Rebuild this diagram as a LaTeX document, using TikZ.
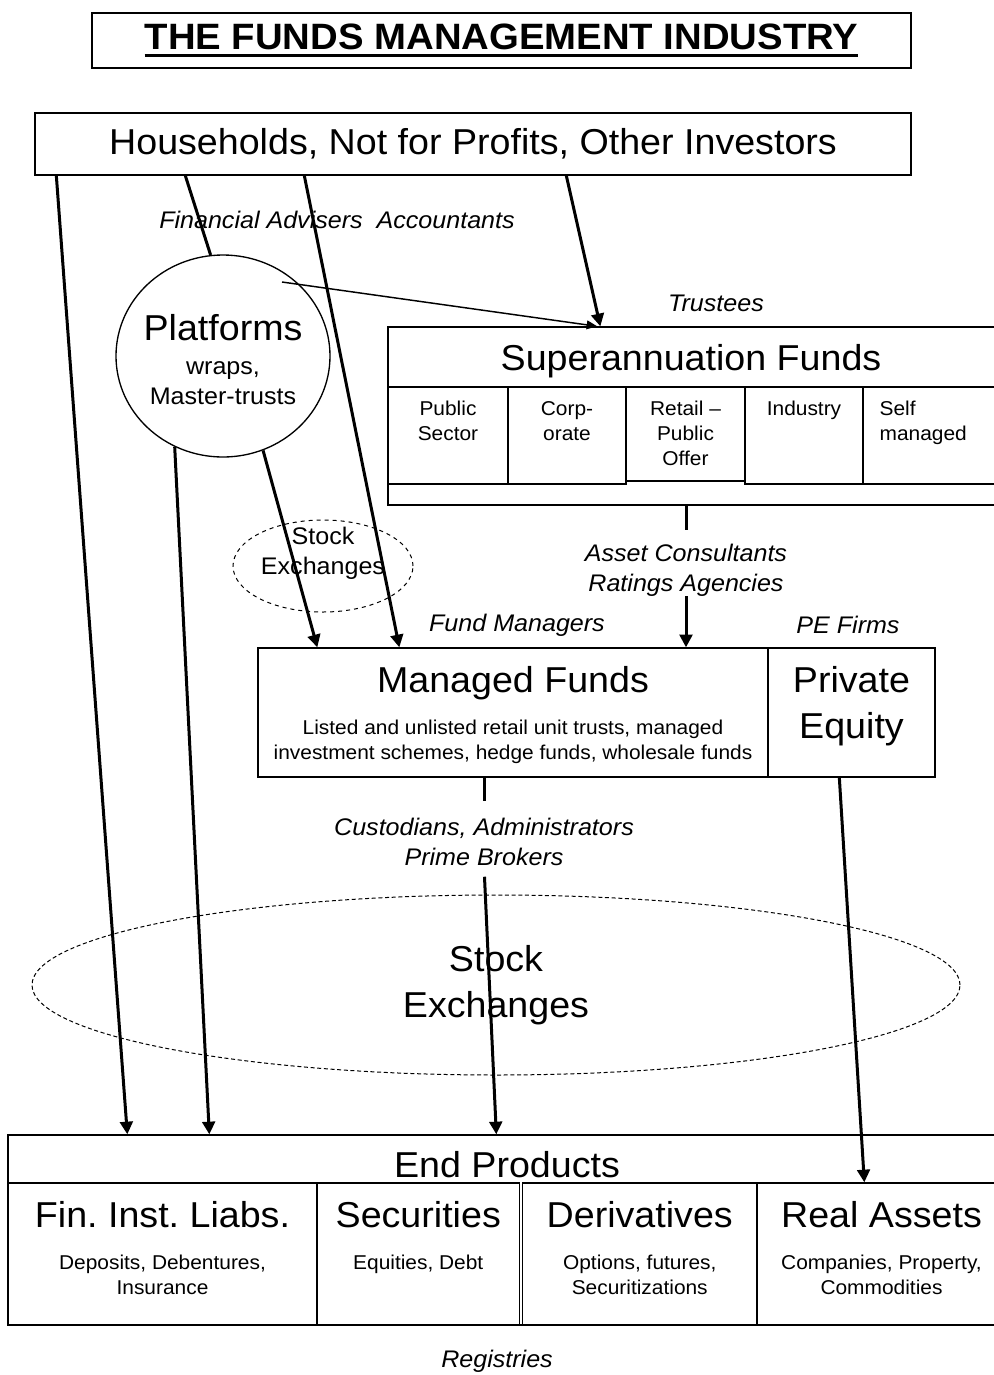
\documentclass[tikz,border=0pt]{standalone}
\usepackage{fontspec}
\setmainfont{Liberation Sans}[FakeStretch=1.045]
\usepackage{tikz}
\usetikzlibrary{positioning,arrows.meta,calc,shapes.geometric}

\newcommand\fbig{\fontsize{27}{34.5}\selectfont}
\newcommand\fmid{\fontsize{18}{22.5}\selectfont}
\newcommand\fsml{\fontsize{15}{18.75}\selectfont}
\newcommand\thickul[1]{\vtop{\hbox{#1}\kern3.5pt\hrule height 2.2pt}}
\frenchspacing

\begin{document}
\begin{tikzpicture}[
  x=0.75pt, y=-0.75pt, >={Triangle[length=9.5pt, width=9.5pt]},
  box/.style={draw, line width=1pt, inner sep=0pt},
  cell/.style={draw, line width=1pt, inner sep=0pt, minimum height=72.75pt},
  bigtxt/.style={font=\fbig, inner sep=0pt, align=center},
  midtxt/.style={font=\fmid, inner sep=0pt, align=center},
  smltxt/.style={font=\fsml, inner sep=0pt, align=center},
  role/.style={font=\fmid\itshape, inner sep=0pt, align=center},
  exch/.style={ellipse, draw, dashed, line width=0.75pt, inner sep=0pt},
  flow/.style={line width=2.25pt},
  link/.style={line width=1.1pt, -{Triangle[length=8pt, width=6.5pt]}}
]
  \useasboundingbox (0,0) rectangle (993,1375);

  % title and investors
  \node[box, line width=0.8pt, minimum width=614.25pt, minimum height=41.25pt, font=\fontsize{27.5}{34}\selectfont\bfseries] (title) at (501.5,40.5) {\thickul{THE FUNDS MANAGEMENT INDUSTRY}};
  \node[box, font=\fbig, minimum width=657pt, minimum height=46.5pt] (house) at (473,144) {Households, Not for Profits, Other Investors};
  \node[role] (advisers) at (337,220) {Financial Advisers~ Accountants};

  % platforms
  \node[ellipse, draw, line width=1pt, minimum width=160.5pt, minimum height=151.5pt, inner sep=0pt] (plat) at (223,356) {};
  \node[bigtxt] (platt) at (223,328) {Platforms};
  \node[midtxt] (plats) at (223,383) {wraps,\\Master-trusts};

  % superannuation
  \node[role] (trustees) at (716,303) {Trustees};
  \node[box, minimum width=456pt, minimum height=133.5pt] (super) at (692,416) {};
  \node[bigtxt] (supert) at (691,361) {Superannuation Funds};
  \node[cell, minimum width=90pt] (pub) at (448,435.5) {};
  \node[cell, minimum width=88.5pt] (corp) at (567,435.5) {};
  \node[cell, minimum width=89.25pt, minimum height=70.5pt] (retail) at (685.5,434) {};
  \node[cell, minimum width=88.5pt] (ind) at (804,435.5) {};
  \node[cell, minimum width=99.75pt] (self) at (929.5,435.5) {};
  \node[smltxt, below=10.5pt of pub.north] (pubt) {Public\\Sector};
  \node[smltxt, below=11pt of corp.north] (corpt) {Corp-\\orate};
  \node[smltxt, below=10.5pt of retail.north] (retailt) {Retail --\\Public\\Offer};
  \node[smltxt, below=10.5pt of ind.north] (indt) {Industry};
  \node[smltxt, align=left, below right=10.5pt and 12.75pt of self.north west] (selft) {Self\\managed};

  \node[exch, minimum width=135pt, minimum height=69pt] (sx1) at (323,566) {};
  \node[midtxt] (sx1t) at (323,553) {Stock\\Exchanges};
  \node[role] (asset) at (686,570) {Asset Consultants\\Ratings Agencies};

  % managed funds and private equity
  \node[role] (fundmgr) at (517,625) {Fund Managers};
  \node[role] (pefirms) at (848,625) {PE Firms};
  \node[box, minimum width=382.5pt, minimum height=96.75pt] (mf) at (513,712.5) {};
  \node[bigtxt, below=14pt of mf.north] (mft) {Managed Funds};
  \node[smltxt, below=15pt of mft] (mfs) {Listed and unlisted retail unit trusts, managed\\investment schemes, hedge funds, wholesale funds};
  \node[box, minimum width=125.25pt, minimum height=96.75pt] (pe) at (851.5,712.5) {};
  \node[bigtxt, below=14pt of pe.north] (pet) {Private\\Equity};
  \node[role] (cust) at (484,842) {Custodians, Administrators\\Prime Brokers};

  \node[exch, dash pattern=on 3pt off 2pt, minimum width=696pt, minimum height=135pt, font=\fbig, align=center] (sx2) at (496,985) {Stock\\Exchanges};

  % end products
  \node[box, minimum width=748.5pt, minimum height=142.5pt] (endp) at (507,1230) {};
  \node[bigtxt] (endpt) at (507,1165) {End Products};
  \node[cell, minimum width=231.75pt, minimum height=106.5pt] (fil) at (162.5,1254) {};
  \node[cell, minimum width=151.875pt, minimum height=106.5pt] (sec) at (418.25,1254) {};
  \node[cell, minimum width=175.875pt, minimum height=106.5pt] (der) at (639.75,1254) {};
  \node[cell, minimum width=186.75pt, minimum height=106.5pt] (real) at (881.5,1254) {};
  \node[bigtxt, below=14pt of fil.north] (filt) {Fin. Inst. Liabs.};
  \node[smltxt, below=20pt of filt] (fils) {Deposits, Debentures,\\Insurance};
  \node[bigtxt, below=14pt of sec.north] (sect) {Securities};
  \node[smltxt, below=20pt of sect] (secs) {Equities, Debt};
  \node[bigtxt, below=14pt of der.north] (dert) {Derivatives};
  \node[smltxt, below=20pt of dert] (ders) {Options, futures,\\Securitizations};
  \node[bigtxt, below=14pt of real.north] (realt) {Real Assets};
  \node[smltxt, below=20pt of realt] (reals) {Companies, Property,\\Commodities};
  \node[role] (registries) at (497,1361) {Registries};

  % flows
  \draw[flow,->] ($(house.south west)+(22,0)$) -- ($(endp.north west)+(120,0)$);
  \draw[flow] ($(house.south west)+(151,0)$) -- (plat.97);
  \draw[flow,->] ($(house.south west)+(270,0)$) -- ($(mf.north west)+(142,0)$);
  \draw[flow,->] ($(house.south west)+(532,0)$) -- ($(super.north west)+(213,0)$);
  \draw[link] ($(plat.center)+(59,-74)$) -- ($(super.north west)+(210,0)$);
  \draw[flow,->] (plat.-118) -- ($(endp.north west)+(202,0)$);
  \draw[flow,->] (plat.-67) -- ($(mf.north west)+(60,0)$);
  \draw[flow, shorten >=10pt] (super.south -| asset.north) -- (asset.north);
  \draw[flow,->] (asset.south) -- (asset.south |- mf.north);
  \draw[flow, shorten >=13pt] (mf.south -| cust.north) -- (cust.north);
  \draw[flow,->, shorten <=8pt] (cust.south) -- ($(endp.north west)+(489,0)$);
  \draw[flow,->] ($(pe.south west)+(72,0)$) -- ($(real.north west)+(108,0)$);
\end{tikzpicture}
\end{document}
